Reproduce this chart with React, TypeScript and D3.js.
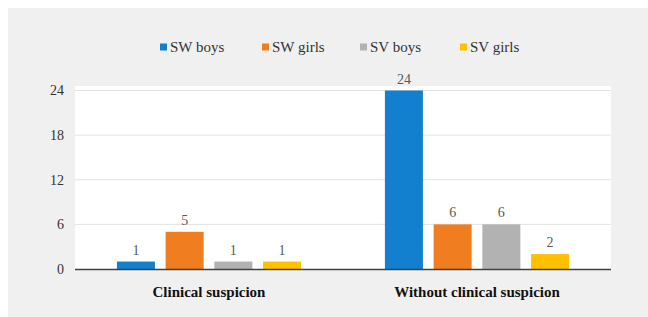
import React from 'react';
import * as d3 from 'd3';

const groups = ['Clinical suspicion', 'Without clinical suspicion'];
const series = ['SW boys', 'SW girls', 'SV boys', 'SV girls'];
const colors = ['#1280cf', '#f07d1f', '#b2b2b2', '#ffc000'];
const values = [
  [1, 5, 1, 1],
  [24, 6, 6, 2],
];
const yTicks = [0, 6, 12, 18, 24];

const W = 648;
const H = 317;
const plot = { left: 75, right: 611, top: 86, bottom: 269 };
const legendX = [160, 262, 360, 460];
const font = 'Liberation Serif';

const App = () => {
  const x0 = d3.scaleBand<string>().domain(groups).range([plot.left, plot.right]);
  const x1 = d3.scaleBand<string>()
    .domain(series)
    .range([0, x0.bandwidth()])
    .paddingInner(0.22)
    .paddingOuter(0.86);
  const y = d3.scaleLinear().domain([0, 24]).range([plot.bottom, 90.5]);

  return (
    <svg width={W} height={H} style={{ position: 'absolute', left: 0, top: 0 }}>
      <rect x={8} y={8} width={W - 8} height={H - 8} fill="#f0f0f0" />
      <rect x={plot.left} y={plot.top} width={plot.right - plot.left} height={plot.bottom - plot.top} fill="#ffffff" />

      {/* gridlines + y ticks */}
      {yTicks.map(t => (
        <g key={t}>
          {t > 0 && (
            <line x1={plot.left} x2={plot.right} y1={y(t)} y2={y(t)} stroke="#e3e3e3" strokeWidth={1} />
          )}
          <text x={64} y={y(t)} dy="0.35em" textAnchor="end" fontFamily={font} fontSize={14} fill="#333">{t}</text>
        </g>
      ))}

      {/* bars */}
      {groups.map((g, gi) => (
        <g key={g} transform={`translate(${x0(g)},0)`}>
          {series.map((s, si) => {
            const v = values[gi][si];
            const bx = x1(s) as number;
            return (
              <g key={s}>
                <rect x={bx} y={y(v)} width={x1.bandwidth()} height={y(0) - y(v)} fill={colors[si]} />
                <text x={bx + x1.bandwidth() / 2} y={y(v) - 7} textAnchor="middle" fontFamily={font} fontSize={14} fill="#595959">{v}</text>
              </g>
            );
          })}
          <text x={x0.bandwidth() / 2} y={297} textAnchor="middle" fontFamily={font} fontSize={15} fontWeight="bold" fill="#111">{g}</text>
        </g>
      ))}

      {/* x axis line */}
      <line x1={plot.left} x2={plot.right} y1={plot.bottom + 0.5} y2={plot.bottom + 0.5} stroke="#404040" strokeWidth={1.5} />

      {/* legend */}
      {series.map((s, i) => (
        <g key={s} transform={`translate(${legendX[i]},47)`}>
          <rect x={0} y={-3.5} width={7} height={7} fill={colors[i]} />
          <text x={10} y={0} dy="0.35em" fontFamily={font} fontSize={15} fill="#333">{s}</text>
        </g>
      ))}
    </svg>
  );
};

export default App;
